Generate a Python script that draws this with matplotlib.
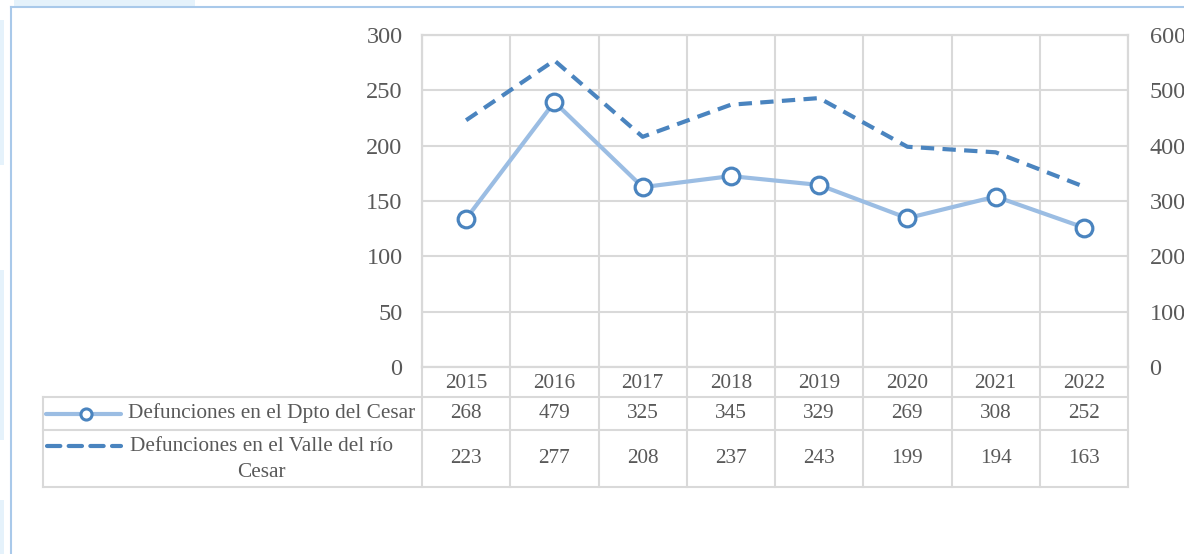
import matplotlib.pyplot as plt
import numpy as np

# data
years = ['2015', '2016', '2017', '2018', '2019', '2020', '2021', '2022']
dpto_cesar = [268, 479, 325, 345, 329, 269, 308, 252]     # right axis
valle_cesar = [223, 277, 208, 237, 243, 199, 194, 163]    # left axis
left_ticks = [0, 50, 100, 150, 200, 250, 300]
right_ticks = [0, 100, 200, 300, 400, 500, 600]
label_dpto = 'Defunciones en el Dpto del Cesar'
label_valle = 'Defunciones en el Valle del río\nCesar'

W, H = 1184, 554
TEXT = '#595959'
GRID = '#d9d9d9'
LIGHT = '#9bbde3'
DARK = '#4a84bf'
FONT = 'Liberation Serif'
FS_TICK = 17.5
FS_TAB = 15.3

plt.rcParams['font.family'] = FONT

fig = plt.figure(figsize=(W / 100, H / 100), dpi=100)

# plot area in pixel coords
x0, x1, ytop, ybot = 422, 1128, 35, 367
ax = fig.add_axes([x0 / W, 1 - ybot / H, (x1 - x0) / W, (ybot - ytop) / H])
ax2 = ax.twinx()

x = np.arange(len(years))
ax.set_xlim(-0.5, len(years) - 0.5)
ax.set_ylim(0, 300)
ax2.set_ylim(0, 600)

ax.plot(x, valle_cesar, color=DARK, lw=3, linestyle=(0, (3.2, 2.0)),
        dash_capstyle='butt', zorder=3)
ax2.plot(x, dpto_cesar, color=LIGHT, lw=3, marker='o', markersize=12,
         markerfacecolor='white', markeredgecolor=DARK, markeredgewidth=2.3,
         zorder=3)

ax.set_yticks(left_ticks)
ax2.set_yticks(right_ticks)
ax.set_xticks(np.arange(-0.5, len(years), 1))
ax.set_xticklabels([])
ax.grid(True, axis='both', color=GRID, lw=1.5)
ax.tick_params(axis='both', length=0)
ax.tick_params(axis='y', labelsize=FS_TICK, labelcolor=TEXT, pad=14)
ax2.tick_params(axis='y', length=0, labelsize=FS_TICK, labelcolor=TEXT, pad=15.5)
for a in (ax, ax2):
    for s in a.spines.values():
        s.set_color(GRID)
        s.set_linewidth(1.5)

# overlay for data table and frame, pixel coordinates
ov = fig.add_axes([0, 0, 1, 1], zorder=-1)
ov.set_xlim(0, W)
ov.set_ylim(H, 0)
ov.axis('off')

# page decoration
ov.add_patch(plt.Rectangle((14, 0), 181, 6, color='#e5f2fb', lw=0))
for yy0, yy1 in [(20, 165), (270, 440), (500, 554)]:
    ov.add_patch(plt.Rectangle((0, yy0), 4, yy1 - yy0, color='#e5f2fb', lw=0))
ov.plot([11, W], [7, 7], color='#a9c9ea', lw=1.5)
ov.plot([11, 11], [7, H], color='#a9c9ea', lw=1.5)

# table geometry
col_w = (x1 - x0) / len(years)
cols = [x0 + i * col_w for i in range(len(years) + 1)]
tx0 = 43
r0, r1, r2, r3 = ybot, 397, 430, 487

for c in cols:
    ov.plot([c, c], [ybot, r3], color=GRID, lw=1.5)
ov.plot([tx0, tx0], [r1, r3], color=GRID, lw=1.5)
for r in (r1, r2, r3):
    ov.plot([tx0, x1], [r, r], color=GRID, lw=1.5)

for i, yr in enumerate(years):
    cx = cols[i] + col_w / 2
    ov.text(cx, (r0 + r1) / 2 + 1, yr, ha='center', va='center', fontsize=FS_TAB, color=TEXT)
    ov.text(cx, (r1 + r2) / 2, str(dpto_cesar[i]), ha='center', va='center', fontsize=FS_TAB, color=TEXT)
    ov.text(cx, (r2 + r3) / 2, str(valle_cesar[i]), ha='center', va='center', fontsize=FS_TAB, color=TEXT)

# legend keys
ov.plot([46, 121], [(r1 + r2) / 2, (r1 + r2) / 2], color=LIGHT, lw=3, solid_capstyle='round')
ov.plot([86], [(r1 + r2) / 2], marker='o', markersize=8, markerfacecolor='white',
        markeredgecolor=DARK, markeredgewidth=2.2)
ov.plot([47, 121], [446, 446], color=DARK, lw=3, linestyle=(0, (3.2, 2.0)),
        dash_capstyle='round')

ov.text(128, (r1 + r2) / 2, label_dpto, ha='left', va='center', fontsize=FS_TAB, color=TEXT)
ov.text(261, (r2 + r3) / 2 + 1, label_valle, ha='center', va='center', fontsize=FS_TAB,
        color=TEXT, multialignment='center', linespacing=1.45)

fig.savefig('out.png', dpi=100)
